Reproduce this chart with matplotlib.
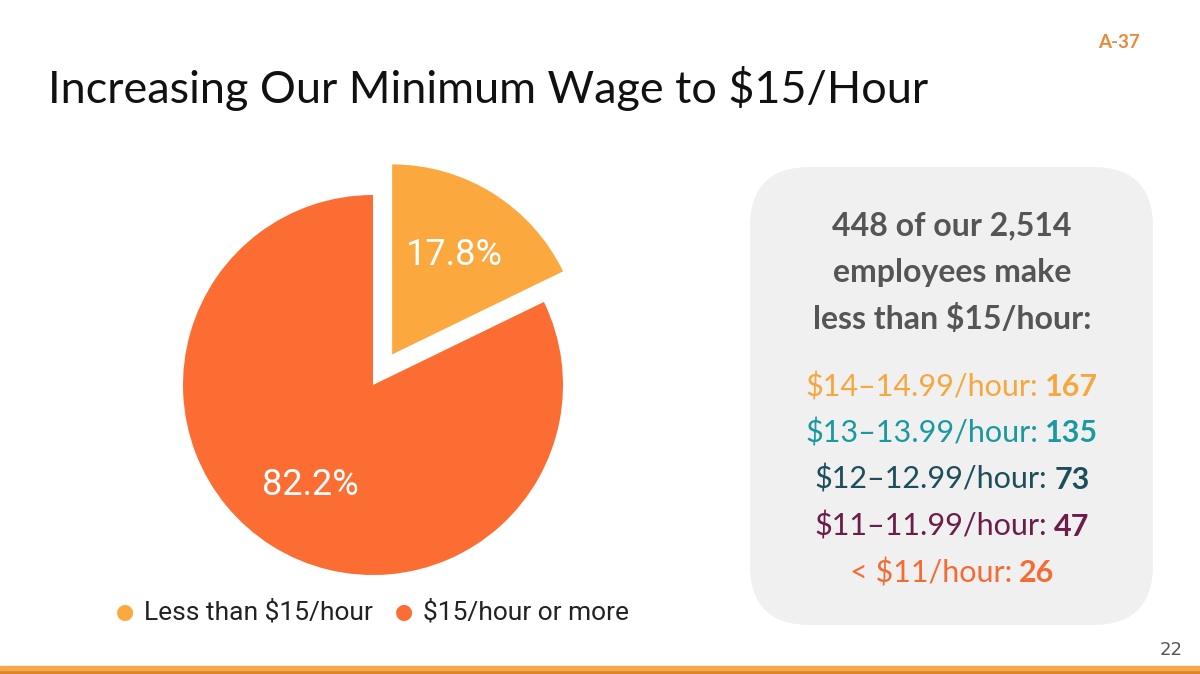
import matplotlib.pyplot as plt
from matplotlib.patches import FancyBboxPatch, Rectangle

# pie data
pie_labels = ['Less than $15/hour', '$15/hour or more']
pie_values = [17.8, 82.2]
pie_colors = ['#FBA83F', '#FB6D32']

# breakdown of employees under $15/hour
band_labels = ['$14\u201314.99/hour:', '$13\u201313.99/hour:', '$12\u201312.99/hour:',
               '$11\u201311.99/hour:', '< $11/hour:']
band_counts = [167, 135, 73, 47, 26]
band_colors = ['#F6A83F', '#1A9AA0', '#1C4E5B', '#6C1D4A', '#F46C34']

headline = ['448 of our 2,514', 'employees make', 'less than $15/hour:']

W, H = 1200, 674
fig = plt.figure(figsize=(12, 6.74), dpi=100)
fig.patch.set_facecolor('white')
r = fig.canvas.get_renderer()

# title and corner marks
fig.text(48 / W, 1 - 103 / H, 'Increasing Our Minimum Wage to $15/Hour', fontsize=32.4,
         family='Lato', color='#111111', va='baseline')
fig.text(1140 / W, 1 - 48 / H, 'A-37', fontsize=13.5, family='Lato', weight='bold',
         color='#E9893A', ha='right', va='baseline')
fig.text(1183 / W, 1 - 655 / H, '22', fontsize=13, family='Liberation Sans Narrow',
         color='#555555', ha='right', va='baseline')

# bottom bar
fig.patches.append(Rectangle((0, 0), 1, 4 / H, transform=fig.transFigure,
                             color='#DB8428', zorder=0))
fig.patches.append(Rectangle((0, 4 / H), 1, 4 / H, transform=fig.transFigure,
                             color='#F3A94B', zorder=0))

# pie
cx, cy, rad = 373, 674 - 385, 190
half = 220
ax = fig.add_axes([(cx - half) / W, (cy - half) / H, 2 * half / W, 2 * half / H])
wedges, texts, autotexts = ax.pie(pie_values, colors=pie_colors, startangle=90,
                                  counterclock=False, explode=[0.19, 0],
                                  autopct='%.1f%%', pctdistance=0.62,
                                  textprops=dict(color='white', fontsize=26, family='Roboto'))
ax.set_xlim(-half / rad, half / rad)
ax.set_ylim(-half / rad, half / rad)
ax.set_aspect('equal')
ax.axis('off')

# legend
leg_x = [125, 404]
for x, lab, col in zip(leg_x, pie_labels, pie_colors):
    fig.text(x / W, 1 - 612 / H, '\u25CF', fontsize=15, color=col, ha='center', va='center',
             family='DejaVu Sans')
    fig.text((x + 19) / W, 1 - 620 / H, lab, fontsize=19, family='Roboto',
             color='#222222', va='baseline')

# gray box
box = FancyBboxPatch((750 / W, 1 - 625 / H), 403 / W, 458 / H,
                     boxstyle='round,pad=0,rounding_size=0.05',
                     transform=fig.transFigure, facecolor='#F0F0F0', edgecolor='none',
                     mutation_aspect=W / H, zorder=0)
fig.patches.append(box)

bx = 952
for i, line in enumerate(headline):
    fig.text(bx / W, 1 - (235 + i * 47) / H, line, fontsize=23, family='Lato',
             weight='bold', color='#555555', ha='center', va='baseline')


def mixed_line(label, num, col, y):
    t1 = fig.text(0, y, label, fontsize=22, family='Lato', color=col, va='baseline')
    t2 = fig.text(0, y, str(num), fontsize=22, family='Lato', weight='bold',
                  color=col, va='baseline')
    w1 = t1.get_window_extent(r).width
    w2 = t2.get_window_extent(r).width
    gap = 7
    x0 = bx - (w1 + gap + w2) / 2
    t1.set_x(x0 / W)
    t2.set_x((x0 + w1 + gap) / W)


for i, (lab, n, c) in enumerate(zip(band_labels, band_counts, band_colors)):
    mixed_line(lab, n, c, 1 - (396 + i * 46.5) / H)

fig.savefig('out.png', dpi=100)
